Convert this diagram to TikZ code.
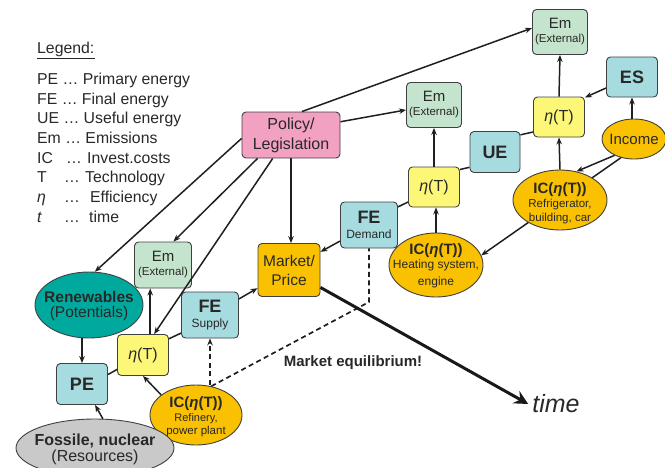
\documentclass[tikz,border=0pt]{standalone}
\usepackage{fontspec}
\setmainfont{Liberation Sans}
\usetikzlibrary{arrows.meta,shapes.geometric}
\definecolor{emg}{RGB}{196,228,205}
\definecolor{eblue}{RGB}{166,220,223}
\definecolor{eyel}{RGB}{253,247,120}
\definecolor{orng}{RGB}{249,193,0}
\definecolor{pink}{RGB}{242,161,194}
\definecolor{teal2}{RGB}{0,169,157}
\definecolor{gry}{RGB}{201,201,201}
\definecolor{txt}{RGB}{40,40,40}
\begin{document}
\begin{tikzpicture}[x=1pt,y=-1pt,
  bx/.style={draw=black!75, line width=0.9pt, rounded corners=4pt, align=center, inner sep=0pt, text=txt},
  embox/.style={bx, fill=emg, minimum width=55, minimum height=45},
  bbox/.style={bx, fill=eblue, minimum width=51, minimum height=41},
  etabox/.style={bx, fill=eyel, minimum width=51, minimum height=40},
  oval/.style={ellipse, draw=black!75, line width=0.9pt, inner sep=0pt},
  lbl/.style={align=center, inner sep=0pt, text=txt},
  leg/.style={anchor=base west, inner sep=0pt, font=\fontsize{15.8}{18}\selectfont, text=txt},
  arr/.style={draw=black!88, line width=1.5pt, -{Stealth[length=7pt,width=5.5pt]}},
  ln/.style={draw=black!88, line width=1.5pt},
  dsh/.style={draw=black!88, line width=1.7pt, dash pattern=on 5pt off 3.5pt}
]
\useasboundingbox (0,0) rectangle (665,467);
\clip (0,0) rectangle (665,467);

% legend
\node[leg] (lgh) at (37,53) {Legend:};
\draw[line width=0.8pt, black!85] (37,58.5) -- (95,58.5);
\node[leg] (l1) at (37,84) {PE … Primary energy};
\node[leg] (l2) at (37,104) {FE … Final energy};
\node[leg] (l3) at (37,123.5) {UE … Useful energy};
\node[leg] (l4) at (37,143) {Em … Emissions};
\node[leg] (l5a) at (37,163) {IC};
\node[leg] (l5b) at (66,163) {…};
\node[leg] (l5c) at (87,163) {Invest.costs};
\node[leg] (l6a) at (37,182.5) {T};
\node[leg] (l6b) at (64,182.5) {…};
\node[leg] (l6c) at (85,182.5) {Technology};
\node[leg] (l7a) at (37,202) {\itshape η};
\node[leg] (l7b) at (64,202) {…};
\node[leg] (l7c) at (90,202) {Efficiency};
\node[leg] (l8a) at (37,222) {\itshape t};
\node[leg] (l8b) at (64,222) {…};
\node[leg] (l8c) at (89,222) {time};

% boxes
\node[embox] (emT) at (560,32) {{\fontsize{15}{15}\selectfont Em}\\[2pt]{\fontsize{11.5}{12}\selectfont (External)}};
\node[embox] (emM) at (434,105) {{\fontsize{15}{15}\selectfont Em}\\[2pt]{\fontsize{11.5}{12}\selectfont (External)}};
\node[embox, minimum width=57, minimum height=46] (emL) at (163,265) {{\fontsize{15}{15}\selectfont Em}\\[2pt]{\fontsize{11.5}{12}\selectfont (External)}};
\node[bbox, minimum height=40] (es) at (632,77) {\fontsize{18}{18}\selectfont\bfseries ES};
\node[bbox, minimum width=50] (ue) at (495,152) {\fontsize{18}{18}\selectfont\bfseries UE};
\node[bbox] (pe) at (82,384) {\fontsize{18}{18}\selectfont\bfseries PE};
\node[bbox, minimum width=57, minimum height=46] (feD) at (369,225) {{\fontsize{18}{18}\selectfont\bfseries FE}\\[3pt]{\fontsize{12}{12}\selectfont Demand}};
\node[bbox, minimum width=57, minimum height=46] (feS) at (210,315) {{\fontsize{18}{18}\selectfont\bfseries FE}\\[3pt]{\fontsize{12}{12}\selectfont Supply}};
\node[etabox] (etaR) at (559,117) {\fontsize{16}{16}\selectfont{\itshape η}(T)};
\node[etabox] (etaM) at (434,187) {\fontsize{16}{16}\selectfont{\itshape η}(T)};
\node[etabox, minimum height=41] (etaL) at (143,355) {\fontsize{16}{16}\selectfont{\itshape η}(T)};
\node[bx, fill=pink, minimum width=98, minimum height=46, font=\fontsize{16}{20}\selectfont] (pol) at (291,135) {Policy/\\Legislation};
\node[bx, fill=orng, minimum width=62, minimum height=53, font=\fontsize{15.5}{19}\selectfont] (mkt) at (289,270) {Market/\\Price};

% ellipses
\node[oval, fill=orng, minimum width=64, minimum height=40,
  label={[lbl]center:{\fontsize{15}{15}\selectfont Income}}] (inc) at (634,139) {};
\node[oval, fill=orng, minimum width=94, minimum height=64,
  label={[lbl, yshift=-1pt]center:{{\fontsize{15}{15}\selectfont\bfseries IC({\itshape η}(T))}\\[2pt]{\fontsize{12}{12}\selectfont Heating system,}\\[5pt]{\fontsize{12}{12}\selectfont engine}}}] (ich) at (436,265) {};
\draw[arr] (inc.235) -- (ich.12);
\node[oval, fill=orng, minimum width=94, minimum height=60,
  label={[lbl, yshift=-3pt]center:{{\fontsize{15}{15}\selectfont\bfseries IC({\itshape η}(T))}\\[2pt]{\fontsize{11.5}{12}\selectfont Refrigerator,}\\[2pt]{\fontsize{11.5}{12}\selectfont building, car}}}] (icF) at (560,200) {};
\node[oval, fill=orng, minimum width=92, minimum height=60,
  label={[lbl, yshift=-2pt]center:{{\fontsize{15}{15}\selectfont\bfseries IC({\itshape η}(T))}\\[2pt]{\fontsize{11}{12}\selectfont Refinery,}\\[1pt]{\fontsize{11.5}{12}\selectfont power plant}}}] (icR) at (196,415) {};
\node[oval, fill=teal2, minimum width=108, minimum height=66,
  label={[lbl, yshift=-1pt]center:{{\fontsize{15.5}{15.5}\selectfont\bfseries Renewables}\\[3pt]{\fontsize{15.5}{15.5}\selectfont (Potentials)}}}] (ren) at (89,305) {};
\node[oval, fill=gry, minimum width=158, minimum height=58,
  label={[lbl, yshift=-1.5pt]center:{{\fontsize{16}{16}\selectfont\bfseries Fossile, nuclear}\\[1pt]{\fontsize{16}{16}\selectfont (Resources)}}}] (fos) at (95,448) {};

% texts
\node[lbl] (meq) at (353,363) {\fontsize{15}{15}\selectfont\bfseries Market equilibrium!};
\node[lbl, inner sep=4pt] (tmt) at (556,404) {\fontsize{25}{25}\selectfont\itshape time};

% connectors
\draw[arr] (pol.65) -- (emT.172);
\draw[arr] (pol.15) -- (emM.190);
\draw[arr] (pol.south) -- (pol.south |- mkt.north);
\draw[arr] (pol.184) -- (ren.80);
\draw[arr] (pol.215) -- (emL.66);
\draw[arr] (pol.232) -- (etaL.62);
\draw[arr] (pe.north |- ren.south) -- (pe.north);
\draw[arr] (fos.75) -- (pe.-58);
\draw[ln] (pe.20) -- (etaL.209);
\draw[arr] (etaL.71) -- (etaL.71 |- emL.south);
\draw[ln] (etaL.32) -- (feS.212);
\draw[arr] (icR.150) -- (etaL.south);
\draw[dsh, -{Stealth[length=7pt,width=5.5pt]}] (feS.south |- icR.north) -- (feS.south);
\coordinate (mq) at (369,302);
\draw[dsh] (icR.62) -- (mq) -- (feD.south);
\draw[arr] (feS.29) -- (mkt.210);
\draw[arr] (feD.209) -- (mkt.30);
\draw[ln] (feD.32) -- (etaM.210);
\draw[arr] (ich.north) -- (ich.north |- etaM.south);
\draw[arr] (etaM.north) -- (emM.south);
\draw[ln] (etaM.34) -- (ue.211);
\draw[ln] (ue.34) -- (etaR.210);
\draw[arr] (etaR.north) -- (emT.south);
\draw[arr] (es.203) -- (etaR.37);
\draw[arr] (es.south |- inc.north) -- (es.south);
\draw[arr] (inc.220) -- (icF.60);
\draw[arr] (icF.north) -- (etaR.south);
\draw[draw=black!90, line width=3pt, -{Stealth[length=14pt,width=14pt,inset=5pt]}] (mkt.-29) -- (tmt.west);
\end{tikzpicture}
\end{document}
